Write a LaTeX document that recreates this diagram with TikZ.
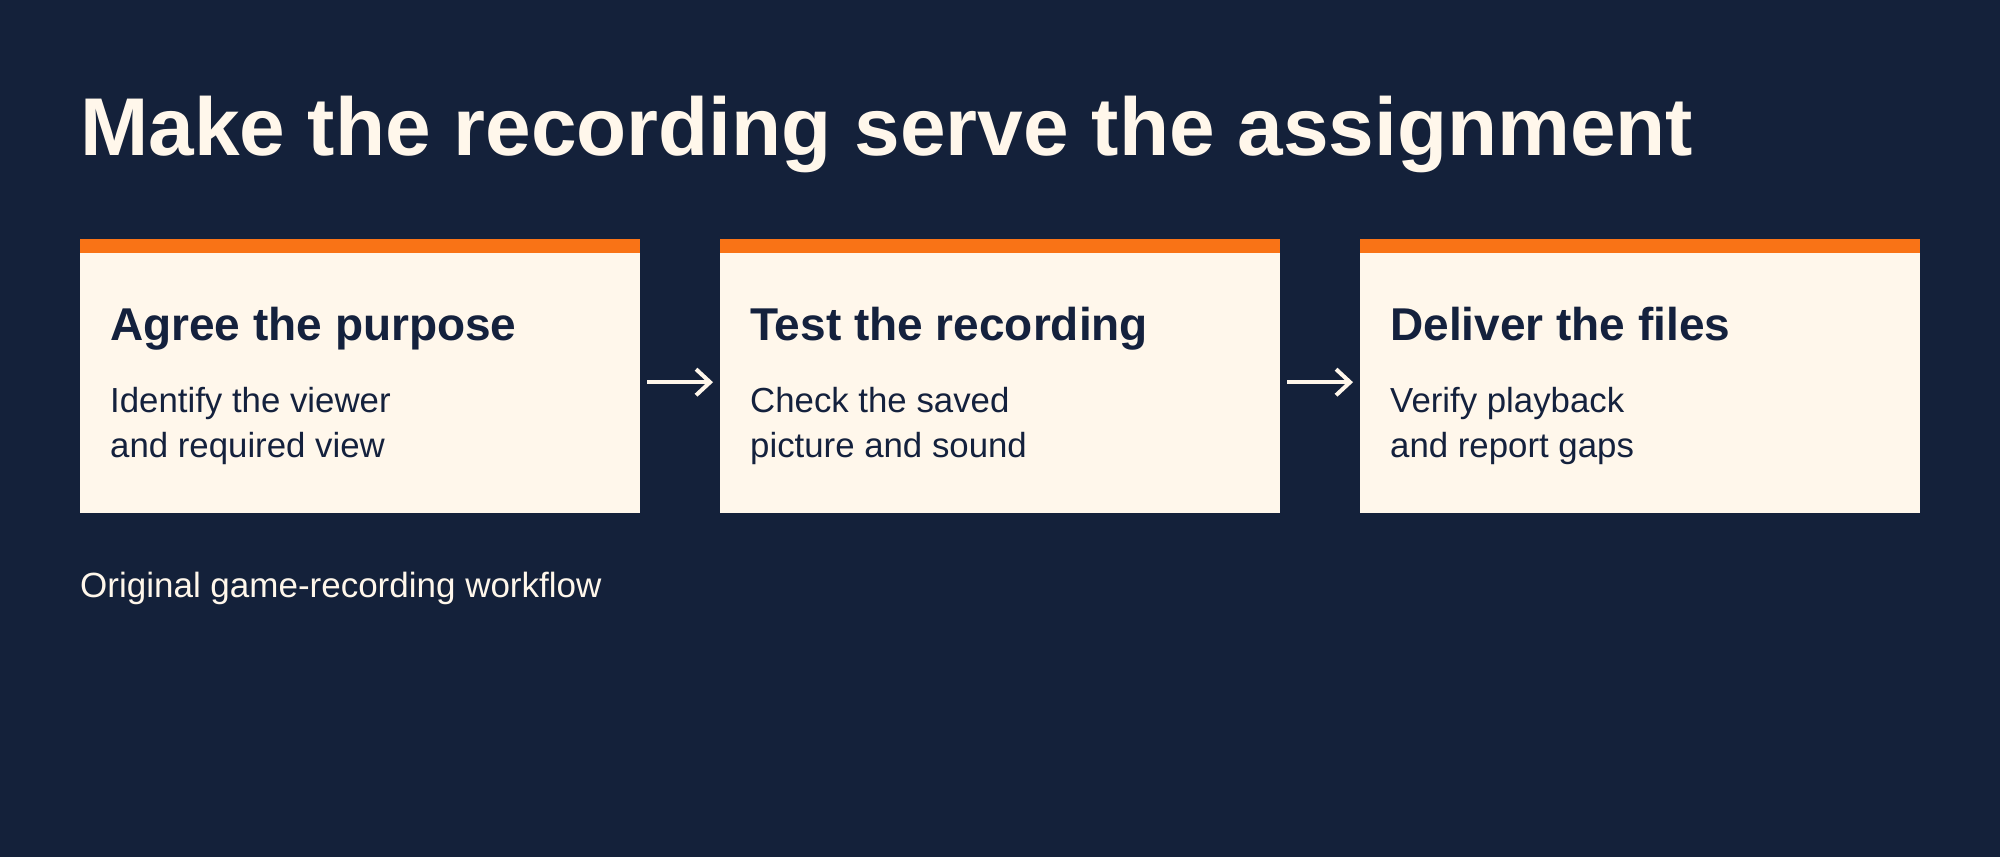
\documentclass[tikz,border=0pt]{standalone}
\usepackage{fontspec}
\setmainfont{Liberation Sans}
\usetikzlibrary{arrows.meta}
\definecolor{bgnavy}{HTML}{14213A}
\definecolor{cream}{HTML}{FFF7EB}
\definecolor{accent}{HTML}{F97316}
\definecolor{inknavy}{HTML}{14213D}
\tikzset{
  card/.style={fill=cream, draw=none, minimum width=560pt, minimum height=274pt, inner sep=0pt, anchor=north west},
  cardhead/.style={anchor=base west, inner sep=0pt, text=inknavy, font=\fontsize{46}{52}\selectfont\bfseries},
  cardbody/.style={anchor=base west, inner sep=0pt, text=inknavy, align=left, font=\fontsize{34.8}{45}\selectfont},
  flowarrow/.style={draw=cream, line width=4pt, -{Straight Barb[length=14pt,width=26pt,line width=4pt]}}
}
\begin{document}
\begin{tikzpicture}[x=1pt,y=-1pt]
\useasboundingbox (0,0) rectangle (2000,857);
\fill[bgnavy] (0,0) rectangle (2000,857);
\node[anchor=base west, inner sep=0pt, text=cream, font=\fontsize{82}{100}\selectfont\bfseries] (title) at (80,155) {Make the recording serve the assignment};
\node[card] (b1) at (80,239) {};
\node[card] (b2) at (720,239) {};
\node[card] (b3) at (1360,239) {};
\foreach \b in {b1,b2,b3}{
  \fill[accent] (\b.north west) rectangle ([yshift=-14pt]\b.north east);
}
\node[cardhead] (h1) at (110,340) {Agree the purpose};
\node[cardhead] (h2) at (750,340) {Test the recording};
\node[cardhead] (h3) at (1390,340) {Deliver the files};
\node[cardbody] (t1) at (110,457) {Identify the viewer\\and required view};
\node[cardbody] (t2) at (750,457) {Check the saved\\picture and sound};
\node[cardbody] (t3) at (1390,457) {Verify playback\\and report gaps};
\draw[flowarrow] ([xshift=7pt,yshift=-6pt]b1.east) -- ([xshift=-7pt,yshift=-6pt]b2.west);
\draw[flowarrow] ([xshift=7pt,yshift=-6pt]b2.east) -- ([xshift=-7pt,yshift=-6pt]b3.west);
\node[anchor=base west, inner sep=0pt, text=cream, font=\fontsize{35}{40}\selectfont] (foot) at (80,597) {Original game-recording workflow};
\end{tikzpicture}
\end{document}
